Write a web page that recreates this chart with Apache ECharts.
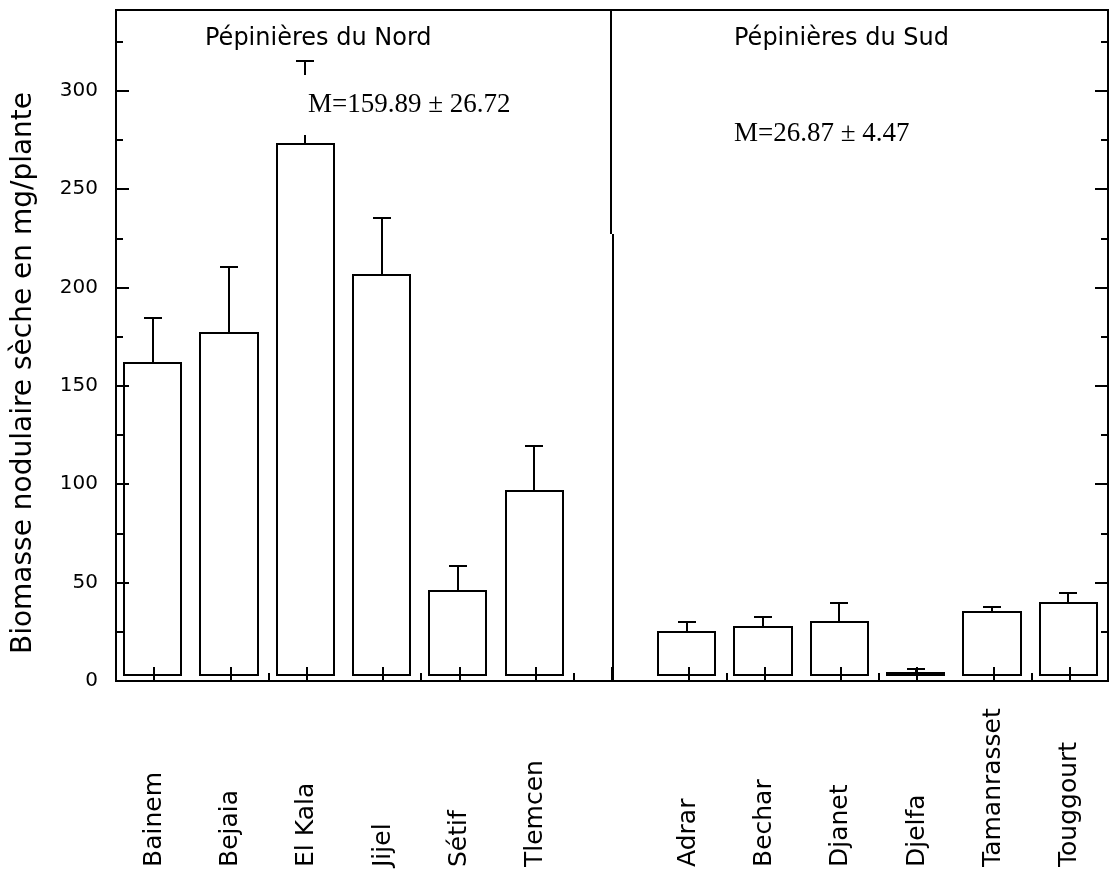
<!DOCTYPE html>
<html>
<head>
<meta charset="utf-8">
<script src="https://cdn.jsdelivr.net/npm/echarts@6/dist/echarts.min.js"></script>
<style>
  html, body { margin: 0; padding: 0; background: #fff; }
  #chart { width: 1111px; height: 870px; }
</style>
</head>
<body>
<div id="chart"></div>
<script>
// Dry nodule biomass (mg/plant), mean and standard error per nursery
const northSites = ['Bainem', 'Bejaia', 'El Kala', 'Jijel', 'Sétif', 'Tlemcen'];
const northMeans = [161.4, 176.7, 272.9, 206.3, 45.8, 96.5];
const northErrors = [23.2, 33.8, 42.1, 28.8, 12.6, 22.9];

const southSites = ['Adrar', 'Bechar', 'Djanet', 'Djelfa', 'Tamanrasset', 'Touggourt'];
const southMeans = [25.0, 27.3, 30.1, 4.3, 35.1, 39.5];
const southErrors = [4.8, 5.4, 9.4, 1.6, 2.5, 5.4];

const yTickLabels = [0, 50, 100, 150, 200, 250, 300];
const groupTitles = ['Pépinières du Nord', 'Pépinières du Sud'];
const groupMeans = ['M=159.89 ± 26.72', 'M=26.87 ± 4.47'];
const yTitle = 'Biomasse nodulaire sèche en mg/plante';

const Y_MAX = 341;
const SPLIT_INDEX = northSites.length;          // empty slot between the two groups
const categories = [...northSites, '', ...southSites];

const barData = [
  ...northSites.map((s, i) => [i, northMeans[i], northErrors[i]]),
  ...southSites.map((s, i) => [SPLIT_INDEX + 1 + i, southMeans[i], southErrors[i]])
];

const INK = '#000';
const SANS = '"DejaVu Sans", sans-serif';
const SERIF = '"Liberation Serif", serif';

// Open bars lifted a few pixels off the axis, with an upper error whisker
function renderBar(params, api) {
  const idx = api.value(0);
  const mean = api.value(1);
  const err = api.value(2);
  const top = api.coord([idx, mean]);
  const zero = api.coord([idx, 0]);
  const errTop = api.coord([idx, mean + err]);
  const slot = api.size([1, 0])[0];
  const half = slot * 0.375;
  const mid = top[0] - 1.5;
  const cx = Math.round(mid);
  const left = Math.round(mid - half);
  const right = Math.round(mid + half);
  const bottom = Math.round(zero[1]) - 6;
  const yTop = Math.round(top[1]);
  const yErr = Math.round(errTop[1]);
  const line = { stroke: INK, lineWidth: 2 };
  return {
    type: 'group',
    children: [
      { type: 'rect', shape: { x: left, y: yTop, width: right - left, height: Math.max(bottom - yTop, 1) },
        style: { fill: '#fff', stroke: INK, lineWidth: 2 } },
      { type: 'line', shape: { x1: cx, y1: yTop, x2: cx, y2: yErr }, style: line },
      { type: 'line', shape: { x1: cx - 9, y1: yErr, x2: cx + 9, y2: yErr }, style: line }
    ]
  };
}

// Vertical separator between northern and southern nurseries
function renderDivider(params, api) {
  const base = api.coord([SPLIT_INDEX, 0]);
  const topY = api.coord([SPLIT_INDEX, Y_MAX])[1];
  const jogY = Math.round(api.coord([SPLIT_INDEX, 227])[1]);
  const x = Math.round(base[0]);
  const line = { stroke: INK, lineWidth: 2 };
  return {
    type: 'group',
    children: [
      { type: 'line', shape: { x1: x - 1, y1: topY, x2: x - 1, y2: jogY }, style: line },
      { type: 'line', shape: { x1: x + 1, y1: jogY, x2: x + 1, y2: base[1] }, style: line }
    ]
  };
}

const yMajor = (position) => ({
  type: 'value', min: 0, max: Y_MAX, interval: 50, position, z: 10,
  axisLine: { show: true, lineStyle: { color: INK, width: 2 } },
  axisTick: { show: true, inside: true, length: 13, lineStyle: { color: INK, width: 2 } },
  axisLabel: {
    show: position === 'left', margin: 18, color: INK, fontFamily: SANS, fontSize: 20,
    formatter: v => (yTickLabels.includes(v) ? String(v) : '')
  },
  splitLine: { show: false }
});
const yMinor = (position) => ({
  type: 'value', min: 0, max: Y_MAX, interval: 25, position, z: 10,
  axisLine: { show: false },
  axisTick: { show: true, inside: true, length: 7, lineStyle: { color: INK, width: 2 } },
  axisLabel: { show: false },
  splitLine: { show: false }
});

const chart = echarts.init(document.getElementById('chart'), null, { renderer: 'canvas' });
chart.setOption({
  animation: false,
  backgroundColor: '#fff',
  grid: {
    left: 116, right: 3, top: 10, bottom: 189,
    show: true, borderColor: INK, borderWidth: 2, backgroundColor: 'transparent',
    outerBoundsMode: 'none'
  },
  xAxis: [
    {
      type: 'category', data: categories, position: 'bottom', z: 10,
      axisLine: { show: true, onZero: false, lineStyle: { color: INK, width: 2 } },
      axisTick: { show: true, inside: true, alignWithLabel: true, length: 14, lineStyle: { color: INK, width: 2 } },
      axisLabel: {
        interval: 0, rotate: 90, align: 'left', margin: 186,
        color: INK, fontFamily: SANS, fontSize: 25
      },
      splitLine: { show: false }
    },
    {
      type: 'category', data: categories, position: 'bottom', z: 10,
      axisLine: { show: false, onZero: false },
      axisTick: { show: true, inside: true, length: 8, lineStyle: { color: INK, width: 2 } },
      axisLabel: { show: false },
      splitLine: { show: false }
    }
  ],
  yAxis: [yMajor('left'), yMinor('left'), yMajor('right'), yMinor('right')],
  series: [
    {
      type: 'custom', name: 'Biomasse', xAxisIndex: 0, yAxisIndex: 0,
      renderItem: renderBar, data: barData, clip: false, z: 2
    },
    {
      type: 'custom', name: 'separator', xAxisIndex: 0, yAxisIndex: 0,
      renderItem: renderDivider, data: [[SPLIT_INDEX, 0]], clip: false, z: 3
    }
  ],
  graphic: [
    { type: 'text', x: 24, y: 373, rotation: Math.PI / 2, z: 20,
      style: { text: yTitle, font: '28px ' + SANS, fill: INK, align: 'center', verticalAlign: 'middle' } },
    { type: 'text', x: 205, y: 39, z: 20,
      style: { text: groupTitles[0], font: '24px ' + SANS, fill: INK, align: 'left', verticalAlign: 'middle' } },
    { type: 'text', x: 734, y: 39, z: 20,
      style: { text: groupTitles[1], font: '24px ' + SANS, fill: INK, align: 'left', verticalAlign: 'middle' } },
    { type: 'text', x: 302, y: 105, z: 20,
      style: { text: groupMeans[0], font: '27px ' + SERIF, fill: INK, align: 'left', verticalAlign: 'middle',
               lineHeight: 26, backgroundColor: '#fff', padding: [17, 4, 17, 6] } },
    { type: 'text', x: 734, y: 134, z: 20,
      style: { text: groupMeans[1], font: '27px ' + SERIF, fill: INK, align: 'left', verticalAlign: 'middle' } }
  ]
});
</script>
</body>
</html>
